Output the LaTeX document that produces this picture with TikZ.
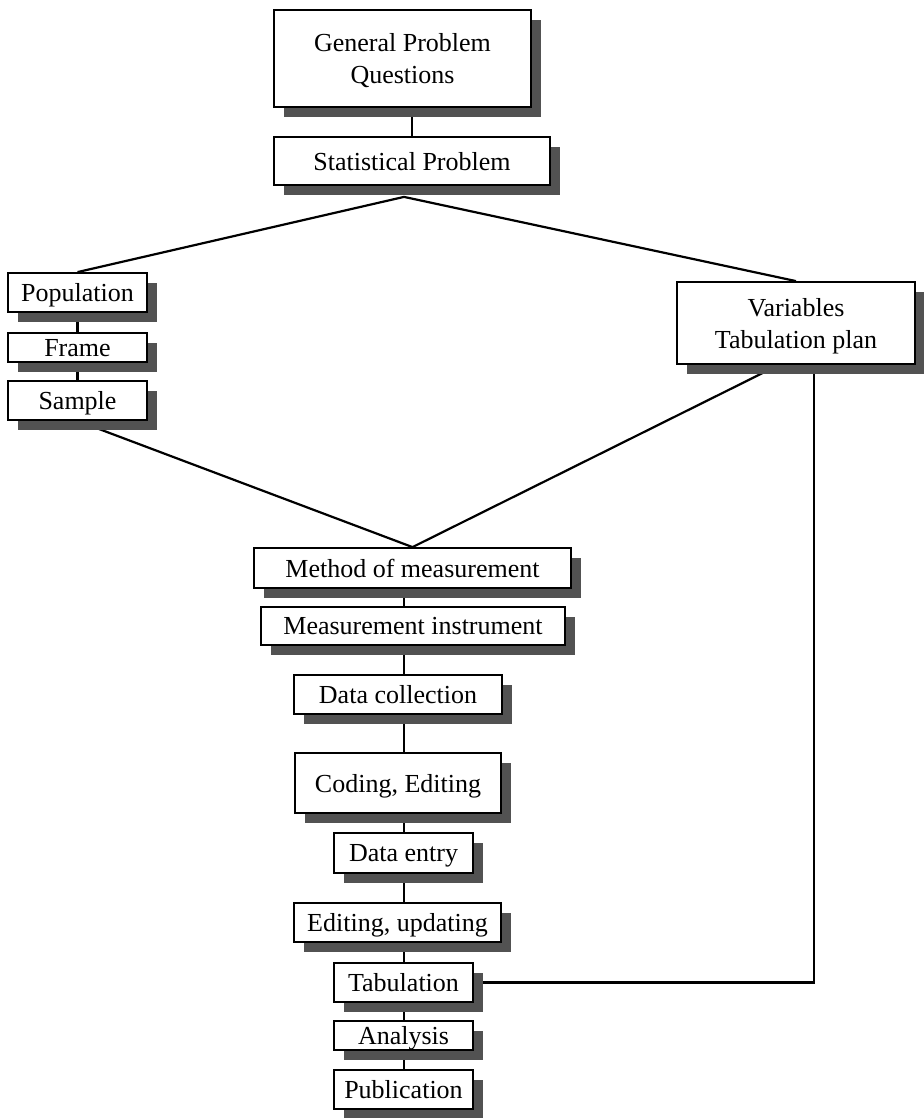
\documentclass[tikz,border=0pt]{standalone}
\usepackage{fontspec}
\setmainfont{Liberation Serif}
\usepackage{tikz}
\usetikzlibrary{shadows,backgrounds,calc}

\begin{document}
\begin{tikzpicture}[
    x=0.5pt, y=-0.5pt,
    every node/.style={font=\fontsize{13}{16}\selectfont},
    box/.style={
        draw,
        line width=0.9pt,
        fill=white,
        align=center,
        inner sep=0pt,
        text depth=0pt,
        drop shadow={shadow xshift=5pt, shadow yshift=-5pt,
          opacity=1, fill=black!68}
    },
    dims/.style 2 args={minimum width=#1, minimum height=#2},
    link/.style={line width=1.1pt}
]
  \useasboundingbox (0,0) rectangle (923,1118);

  % top of the plan
  \node[box, dims={128.5pt}{48.5pt}] (gpq) at (402.5,58.5) {General Problem\\Questions};
  \node[box, dims={138pt}{24pt}] (stat) at (412,161) {Statistical Problem};

  % left branch
  \node[box, dims={69.5pt}{19.5pt}] (pop) at (77.5,292.5) {Population};
  \node[box, dims={69.5pt}{14.5pt}] (frame) at (77.5,347.5) {Frame};
  \node[box, dims={69.5pt}{19.5pt}] (sample) at (77.5,400.5) {Sample};

  % right branch
  \node[box, dims={119pt}{41pt}] (vars) at (796,323) {Variables\\Tabulation plan};

  % main chain
  \node[box, dims={158.5pt}{20pt}] (method) at (412.5,568) {Method of measurement};
  \node[box, dims={152pt}{19pt}] (instr) at (413,626) {Measurement instrument};
  \node[box, dims={104pt}{19.5pt}] (collect) at (398,694.5) {Data collection};
  \node[box, dims={103pt}{30pt}] (coding) at (398,783) {Coding, Editing};
  \node[box, dims={69.5pt}{20pt}] (entry) at (403.5,853) {Data entry};
  \node[box, dims={103.5pt}{19.5pt}] (update) at (397.5,922.5) {Editing, updating};
  \node[box, dims={69.5pt}{19.5pt}] (tab) at (403.5,982.5) {Tabulation};
  \node[box, dims={69.5pt}{14.5pt}] (anal) at (403.5,1035.5) {Analysis};
  \node[box, dims={69.5pt}{19.5pt}] (pub) at (403.5,1089.5) {Publication};

  \coordinate (spine) at (404,0);
  \coordinate (split) at ($(stat.south)+(-8,11)$);

  \begin{scope}[on background layer]
    \draw[link] (stat.north) -- (stat.north |- gpq.south);
    \draw[link] (pop.north) -- (split) -- (vars.north);
    \draw[link] (pop) -- (frame) -- (sample);
    \draw[link] (sample.south) -- (method.north);
    \draw[link] ([xshift=-8.5pt]vars.south) -- (method.north);
    \draw[link] (spine |- method.south) -- (spine |- pub.north);
    \draw[link] (tab.east) -| ([xshift=9pt]vars.south);
  \end{scope}
\end{tikzpicture}
\end{document}
